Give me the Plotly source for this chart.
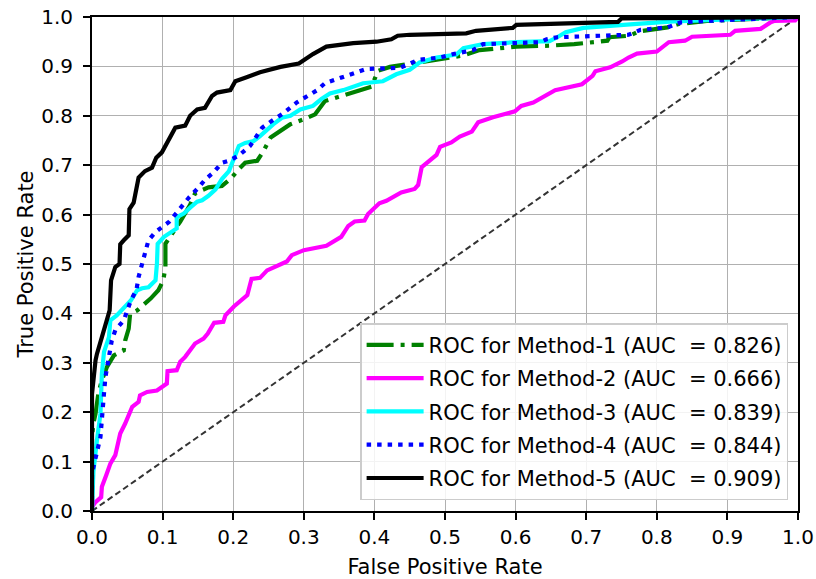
import plotly.graph_objects as go

m1_fpr = [0, 0, 0.002, 0.005, 0.009, 0.014, 0.021, 0.026, 0.031, 0.045, 0.047, 0.052, 0.054, 0.064, 0.083, 0.094, 0.101, 0.104, 0.104, 0.111, 0.125, 0.139, 0.146, 0.153, 0.165, 0.184, 0.196, 0.208, 0.217, 0.234, 0.243, 0.253, 0.267, 0.281, 0.300, 0.316, 0.330, 0.346, 0.370, 0.396, 0.405, 0.422, 0.450, 0.474, 0.497, 0.526, 0.549, 0.601, 0.648, 0.683, 0.730, 0.733, 0.761, 0.775, 0.815, 0.831, 0.871, 1.0]
m1_tpr = [0, 0.150, 0.177, 0.197, 0.238, 0.265, 0.291, 0.305, 0.315, 0.325, 0.345, 0.369, 0.399, 0.406, 0.430, 0.447, 0.467, 0.494, 0.541, 0.556, 0.586, 0.620, 0.643, 0.648, 0.655, 0.658, 0.672, 0.692, 0.705, 0.709, 0.729, 0.756, 0.770, 0.783, 0.793, 0.803, 0.830, 0.837, 0.847, 0.859, 0.891, 0.899, 0.905, 0.911, 0.916, 0.922, 0.933, 0.940, 0.942, 0.945, 0.952, 0.959, 0.962, 0.971, 0.979, 0.986, 0.992, 1.0]

m2_fpr = [0, 0.005, 0.013, 0.014, 0.020, 0.026, 0.033, 0.040, 0.047, 0.057, 0.066, 0.068, 0.078, 0.092, 0.106, 0.107, 0.120, 0.125, 0.132, 0.146, 0.158, 0.164, 0.173, 0.186, 0.189, 0.201, 0.220, 0.226, 0.238, 0.248, 0.276, 0.283, 0.300, 0.313, 0.332, 0.353, 0.363, 0.372, 0.386, 0.391, 0.400, 0.407, 0.417, 0.438, 0.457, 0.462, 0.467, 0.476, 0.488, 0.493, 0.509, 0.521, 0.538, 0.547, 0.568, 0.599, 0.608, 0.625, 0.648, 0.656, 0.694, 0.709, 0.713, 0.734, 0.751, 0.760, 0.772, 0.800, 0.817, 0.840, 0.850, 0.904, 0.911, 0.947, 0.961, 0.966, 0.996, 1.0]
m2_tpr = [0.008, 0.018, 0.028, 0.049, 0.072, 0.096, 0.113, 0.157, 0.177, 0.211, 0.221, 0.234, 0.241, 0.244, 0.258, 0.283, 0.285, 0.302, 0.312, 0.339, 0.349, 0.359, 0.381, 0.383, 0.396, 0.414, 0.437, 0.470, 0.472, 0.487, 0.505, 0.518, 0.528, 0.532, 0.537, 0.555, 0.577, 0.586, 0.588, 0.601, 0.615, 0.623, 0.628, 0.645, 0.652, 0.660, 0.696, 0.706, 0.721, 0.737, 0.746, 0.758, 0.768, 0.787, 0.797, 0.809, 0.820, 0.827, 0.845, 0.852, 0.864, 0.881, 0.890, 0.898, 0.910, 0.918, 0.926, 0.930, 0.949, 0.952, 0.960, 0.964, 0.972, 0.976, 0.989, 0.992, 0.993, 1.0]

m3_fpr = [0, 0.002, 0.007, 0.012, 0.014, 0.017, 0.024, 0.026, 0.035, 0.045, 0.055, 0.064, 0.071, 0.080, 0.090, 0.092, 0.093, 0.102, 0.109, 0.120, 0.120, 0.130, 0.139, 0.149, 0.156, 0.165, 0.175, 0.184, 0.194, 0.203, 0.208, 0.217, 0.229, 0.238, 0.248, 0.257, 0.269, 0.281, 0.295, 0.313, 0.325, 0.337, 0.356, 0.384, 0.412, 0.431, 0.450, 0.464, 0.488, 0.516, 0.526, 0.554, 0.601, 0.648, 0.659, 0.671, 0.696, 0.744, 0.772, 0.824, 0.880, 1.0]
m3_tpr = [0, 0.080, 0.143, 0.197, 0.278, 0.322, 0.352, 0.386, 0.396, 0.410, 0.426, 0.447, 0.451, 0.453, 0.467, 0.501, 0.541, 0.555, 0.561, 0.572, 0.595, 0.602, 0.614, 0.626, 0.629, 0.638, 0.651, 0.672, 0.688, 0.722, 0.739, 0.745, 0.749, 0.759, 0.773, 0.783, 0.796, 0.800, 0.813, 0.820, 0.834, 0.845, 0.852, 0.866, 0.870, 0.884, 0.893, 0.908, 0.918, 0.924, 0.937, 0.945, 0.949, 0.951, 0.959, 0.969, 0.978, 0.982, 0.986, 0.991, 0.994, 1.0]

m4_fpr = [0, 0, 0.012, 0.014, 0.017, 0.019, 0.024, 0.028, 0.033, 0.045, 0.055, 0.063, 0.066, 0.073, 0.080, 0.090, 0.109, 0.120, 0.137, 0.151, 0.161, 0.172, 0.184, 0.196, 0.210, 0.224, 0.241, 0.255, 0.269, 0.290, 0.307, 0.318, 0.330, 0.346, 0.375, 0.389, 0.436, 0.462, 0.493, 0.512, 0.540, 0.554, 0.635, 0.644, 0.659, 0.730, 0.760, 0.777, 0.815, 0.834, 0.871, 1.0]
m4_tpr = [0, 0.076, 0.150, 0.197, 0.238, 0.271, 0.318, 0.345, 0.366, 0.386, 0.426, 0.448, 0.474, 0.514, 0.548, 0.565, 0.585, 0.604, 0.634, 0.655, 0.672, 0.685, 0.705, 0.710, 0.722, 0.739, 0.776, 0.790, 0.803, 0.827, 0.841, 0.851, 0.866, 0.874, 0.888, 0.895, 0.897, 0.913, 0.918, 0.925, 0.933, 0.945, 0.949, 0.955, 0.959, 0.962, 0.964, 0.974, 0.979, 0.989, 0.992, 1.0]

m5_fpr = [0, 0, 0.005, 0.007, 0.014, 0.019, 0.025, 0.027, 0.033, 0.039, 0.040, 0.045, 0.052, 0.053, 0.059, 0.066, 0.075, 0.085, 0.091, 0.099, 0.109, 0.118, 0.132, 0.139, 0.149, 0.160, 0.170, 0.177, 0.196, 0.203, 0.219, 0.238, 0.267, 0.293, 0.313, 0.332, 0.370, 0.403, 0.424, 0.433, 0.450, 0.530, 0.544, 0.596, 0.601, 0.745, 0.750, 1.0]
m5_tpr = [0, 0.237, 0.305, 0.318, 0.352, 0.379, 0.406, 0.467, 0.494, 0.500, 0.540, 0.548, 0.558, 0.611, 0.624, 0.675, 0.688, 0.695, 0.715, 0.726, 0.752, 0.776, 0.780, 0.800, 0.813, 0.816, 0.840, 0.847, 0.852, 0.870, 0.878, 0.888, 0.899, 0.906, 0.925, 0.940, 0.947, 0.950, 0.955, 0.962, 0.964, 0.967, 0.972, 0.978, 0.984, 0.990, 0.997, 1.0]

diag = [0, 1]

labels = [
    "ROC for Method-1 (AUC\u00a0 = 0.826)",
    "ROC for Method-2 (AUC\u00a0 = 0.666)",
    "ROC for Method-3 (AUC\u00a0 = 0.839)",
    "ROC for Method-4 (AUC\u00a0 = 0.844)",
    "ROC for Method-5 (AUC\u00a0 = 0.909)",
]
ticks = [0.0, 0.1, 0.2, 0.3, 0.4, 0.5, 0.6, 0.7, 0.8, 0.9, 1.0]
tick_text = ["%.1f" % t for t in ticks]

series = [
    (m1_fpr, m1_tpr, "#008000", "27px,7px,4px,7px"),
    (m2_fpr, m2_tpr, "#ff00ff", "solid"),
    (m3_fpr, m3_tpr, "#00ffff", "solid"),
    (m4_fpr, m4_tpr, "#0000ff", "4.5px,6px"),
    (m5_fpr, m5_tpr, "#000000", "solid"),
]

FONT = "DejaVu Sans"
fig = go.Figure()
fig.add_trace(go.Scatter(x=diag, y=diag, mode="lines", showlegend=False,
                         line=dict(color="#333333", width=2, dash="6px,3.5px")))
for i, (x, y, c, d) in enumerate(series):
    fig.add_trace(go.Scatter(x=x, y=y, mode="lines", name=labels[i],
                             legendgroup="g%d" % i,
                             line=dict(color=c, width=4.2, dash=d)))

axis_common = dict(range=[0, 1], tickvals=ticks, ticktext=tick_text,
                   showgrid=True, gridcolor="#b0b0b0", gridwidth=1.3,
                   showline=True, linecolor="black", linewidth=2, mirror=True,
                   ticks="outside", ticklen=7, tickwidth=1.5, tickcolor="black",
                   zeroline=False, automargin=False, ticklabeloverflow="allow",
                   tickfont=dict(family=FONT, size=20, color="black"))
fig.update_xaxes(title=dict(text="False Positive Rate", font=dict(family=FONT, size=21, color="black"), standoff=13),
                 **axis_common)
fig.update_yaxes(title=dict(text="True Positive Rate", font=dict(family=FONT, size=21, color="black"), standoff=2),
                 ticklabelstandoff=6, **axis_common)
fig.update_layout(
    width=816, height=579,
    margin=dict(l=92, r=18, t=17, b=68),
    plot_bgcolor="white", paper_bgcolor="white",
    font=dict(family=FONT, size=20, color="black"),
    legend=dict(x=0.986, y=0.022, xanchor="right", yanchor="bottom",
                bgcolor="rgba(255,255,255,0.85)", bordercolor="#cccccc", borderwidth=1.5,
                font=dict(family=FONT, size=21, color="black"),
                traceorder="grouped", tracegroupgap=3, itemwidth=57),
)
fig.write_html("out.html", config={"displayModeBar": False},
               post_script="document.body.style.margin='0';document.body.style.overflow='hidden';")
